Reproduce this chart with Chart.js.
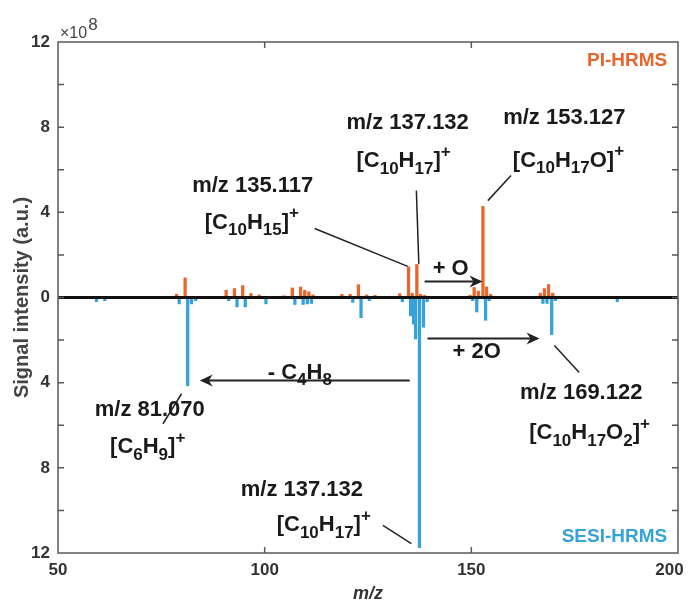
<!DOCTYPE html>
<html>
<head>
<meta charset="utf-8">
<script src="https://cdn.jsdelivr.net/npm/chart.js@4.4.1/dist/chart.umd.min.js"></script>
<style>
  html, body { margin: 0; padding: 0; background: #fff; }
  #wrap { width: 688px; height: 608px; }
</style>
</head>
<body>
<div id="wrap"><canvas id="grafico" width="688" height="608"></canvas></div>
<script>
// PI-HRMS (arriba, naranja)
const piMz = [64, 69, 71, 79, 81.07, 85, 91, 93, 95, 97, 99, 105, 107, 109, 110, 111, 112, 119, 121, 123, 125, 127,
  133, 135.117, 136, 137.132, 138, 139, 150, 151, 152, 153.127, 154, 155, 167, 168, 169, 170, 182];
const piInt = [0.04, 0.05, 0.05, 0.15, 0.92, 0.05, 0.34, 0.42, 0.56, 0.19, 0.12, 0.08, 0.45, 0.49, 0.34, 0.27, 0.12, 0.15, 0.15, 0.6, 0.12, 0.1,
  0.18, 1.44, 0.2, 1.55, 0.15, 0.1, 0.1, 0.47, 0.3, 4.28, 0.5, 0.15, 0.2, 0.42, 0.61, 0.2, 0.05];

// SESI-HRMS (abajo, azul)
const sesiMz = [59, 61, 79, 81.07, 82, 83, 91, 93, 95, 100, 107, 109, 110, 111, 121, 123, 125,
  133, 135, 135.7, 136.2, 137.132, 138.1, 139, 150, 151, 153.127, 154, 167, 168, 169.122, 170, 185];
const sesiInt = [0.2, 0.15, 0.3, 4.15, 0.3, 0.15, 0.15, 0.44, 0.44, 0.3, 0.33, 0.33, 0.3, 0.28, 0.23, 0.95, 0.15,
  0.2, 0.86, 1.25, 1.95, 11.75, 1.4, 0.2, 0.15, 0.68, 1.07, 0.15, 0.28, 0.28, 1.74, 0.15, 0.2];

const xTicks = [50, 100, 150, 200];
const yTicks = [12, 8, 4, 0, -4, -8, -12];

// etiquetas (posicion en unidades de datos: m/z, x10^8)
const etiquetas = [
  { t: "m/z 137.132", x: 134.6, y: 8.2 },
  { t: "[C_{10}H_{17}]^{+}", x: 133.6, y: 6.4 },
  { t: "m/z 153.127", x: 172.5, y: 8.45 },
  { t: "[C_{10}H_{17}O]^{+}", x: 173.5, y: 6.43 },
  { t: "m/z 135.117", x: 97.1, y: 5.26 },
  { t: "[C_{10}H_{15}]^{+}", x: 96.9, y: 3.52 },
  { t: "+ O", x: 145.0, y: 1.36 },
  { t: "+ 2O", x: 151.3, y: -2.58 },
  { t: "- C_{4}H_{8}", x: 108.5, y: -3.52 },
  { t: "m/z 81.070", x: 72.2, y: -5.3 },
  { t: "[C_{6}H_{9}]^{+}", x: 71.7, y: -7.04 },
  { t: "m/z 169.122", x: 176.6, y: -4.5 },
  { t: "[C_{10}H_{17}O_{2}]^{+}", x: 178.6, y: -6.38 },
  { t: "m/z 137.132", x: 109.0, y: -9.06 },
  { t: "[C_{10}H_{17}]^{+}", x: 114.3, y: -10.7 }
];
const lineas = [
  [112.1, 3.24, 134.6, 1.46],
  [136.7, 5.02, 137.3, 1.58],
  [159.6, 5.73, 154.0, 4.55],
  [79.9, -4.52, 75.4, -5.93],
  [170.1, -2.25, 176.1, -3.52],
  [128.6, -10.7, 135.5, -11.56]
];
const flechas = [
  [138.7, 152.7, 0.75],
  [139.4, 166.5, -1.92],
  [135.1, 84.3, -3.9]
];

const naranja = "#E8652B";
const azul = "#35A2DA";
const fuente = "'Liberation Sans', Arial, sans-serif";

function textoRico(ctx, str, x, y, size) {
  const partes = [];
  const re = /([_^])\{([^}]*)\}|([^_^]+)/g;
  let m;
  while ((m = re.exec(str))) {
    if (m[3]) partes.push({ s: m[3], k: "n" });
    else partes.push({ s: m[2], k: m[1] === "_" ? "sub" : "sup" });
  }
  const chico = Math.round(size * 0.75);
  let ancho = 0;
  partes.forEach(p => {
    ctx.font = "bold " + (p.k === "n" ? size : chico) + "px " + fuente;
    p.w = ctx.measureText(p.s).width;
    ancho += p.w;
  });
  let cx = x - ancho / 2;
  ctx.textBaseline = "middle";
  ctx.textAlign = "left";
  partes.forEach(p => {
    ctx.font = "bold " + (p.k === "n" ? size : chico) + "px " + fuente;
    const dy = p.k === "sub" ? size * 0.36 : p.k === "sup" ? -size * 0.42 : 0;
    ctx.fillText(p.s, cx, y + dy);
    cx += p.w;
  });
}

const extras = {
  id: "extras",
  afterDatasetsDraw(chart) {
    const { ctx, chartArea: a, scales: { x, y } } = chart;
    ctx.save();
    // linea cero
    ctx.strokeStyle = "#111";
    ctx.lineWidth = 3;
    ctx.beginPath();
    ctx.moveTo(a.left, y.getPixelForValue(0));
    ctx.lineTo(a.right, y.getPixelForValue(0));
    ctx.stroke();

    // marco
    ctx.strokeStyle = "#5a5a5a";
    ctx.lineWidth = 1.5;
    ctx.strokeRect(a.left, a.top, a.right - a.left, a.bottom - a.top);

    // marcas hacia adentro
    ctx.beginPath();
    for (let v = -10; v <= 10; v += 2) {
      const py = y.getPixelForValue(v);
      ctx.moveTo(a.left, py); ctx.lineTo(a.left + 6, py);
      ctx.moveTo(a.right, py); ctx.lineTo(a.right - 6, py);
    }
    xTicks.slice(1, -1).forEach(v => {
      const px = x.getPixelForValue(v);
      ctx.moveTo(px, a.bottom); ctx.lineTo(px, a.bottom - 6);
      ctx.moveTo(px, a.top); ctx.lineTo(px, a.top + 6);
    });
    ctx.stroke();

    // lineas guia
    ctx.strokeStyle = "#222";
    ctx.lineWidth = 1.5;
    ctx.beginPath();
    lineas.forEach(l => {
      ctx.moveTo(x.getPixelForValue(l[0]), y.getPixelForValue(l[1]));
      ctx.lineTo(x.getPixelForValue(l[2]), y.getPixelForValue(l[3]));
    });
    ctx.stroke();

    // flechas
    ctx.fillStyle = "#222";
    ctx.lineWidth = 2;
    flechas.forEach(f => {
      const x1 = x.getPixelForValue(f[0]), x2 = x.getPixelForValue(f[1]), py = y.getPixelForValue(f[2]);
      const dir = Math.sign(x2 - x1);
      ctx.beginPath();
      ctx.moveTo(x1, py); ctx.lineTo(x2 - dir * 6, py);
      ctx.stroke();
      ctx.beginPath();
      ctx.moveTo(x2, py);
      ctx.lineTo(x2 - dir * 13, py - 6);
      ctx.lineTo(x2 - dir * 9, py);
      ctx.lineTo(x2 - dir * 13, py + 6);
      ctx.closePath();
      ctx.fill();
    });

    // textos
    ctx.fillStyle = "#1a1a1a";
    etiquetas.forEach(e => textoRico(ctx, e.t, x.getPixelForValue(e.x), y.getPixelForValue(e.y), 22));

    ctx.font = "bold 19px " + fuente;
    ctx.textAlign = "right";
    ctx.textBaseline = "middle";
    ctx.fillStyle = naranja;
    ctx.fillText("PI-HRMS", x.getPixelForValue(197.4), y.getPixelForValue(11.13));
    ctx.fillStyle = azul;
    ctx.fillText("SESI-HRMS", x.getPixelForValue(197.4), y.getPixelForValue(-11.22));

    // x10^8
    ctx.fillStyle = "#444";
    ctx.textAlign = "left";
    ctx.textBaseline = "alphabetic";
    ctx.font = "16px " + fuente;
    ctx.fillText("\u00d710", a.left + 2, a.top - 4);
    const w = ctx.measureText("\u00d710").width;
    ctx.font = "17px " + fuente;
    ctx.fillText("8", a.left + 3 + w, a.top - 12);
    ctx.restore();
  }
};

new Chart(document.getElementById("grafico").getContext("2d"), {
  type: "bar",
  data: {
    datasets: [
      { label: "PI-HRMS", data: piMz.map((m, i) => ({ x: m, y: piInt[i] })), backgroundColor: naranja, barThickness: 2.6 },
      { label: "SESI-HRMS", data: sesiMz.map((m, i) => ({ x: m, y: -sesiInt[i] })), backgroundColor: azul, barThickness: 2.6 }
    ]
  },
  options: {
    responsive: false,
    animation: false,
    layout: { padding: { top: 42, right: 10, left: 0, bottom: 0 } },
    plugins: { legend: { display: false }, tooltip: { enabled: false } },
    scales: {
      x: {
        type: "linear", min: 50, max: 200, offset: false, stacked: false,
        afterBuildTicks: s => { s.ticks = xTicks.map(v => ({ value: v })); },
        afterFit: s => { s.height = 55; s.paddingLeft = 0; s.paddingRight = 0; },
        grid: { display: false, drawTicks: false },
        border: { display: false },
        ticks: { padding: 7, color: "#333", font: { family: fuente, size: 17, weight: "bold" }, maxRotation: 0,
          callback: v => v === 200 ? "200\u2003" : String(v) },
        title: { display: true, text: "m/z", color: "#333", padding: { top: 0, bottom: 3 },
          font: { family: fuente, size: 18, weight: "bold", style: "italic" } }
      },
      y: {
        min: -12, max: 12,
        afterBuildTicks: s => { s.ticks = yTicks.map(v => ({ value: v })); },
        afterFit: s => { s.width = 58; },
        grid: { display: false, drawTicks: false },
        border: { display: false },
        ticks: { padding: 8, color: "#333", font: { family: fuente, size: 17, weight: "bold" },
          callback: v => String(Math.abs(v)) },
        title: { display: true, text: "Signal intensity (a.u.)", color: "#444", padding: { top: 10, bottom: 0 },
          font: { family: fuente, size: 20, weight: "bold" } }
      }
    }
  },
  plugins: [extras]
});
</script>
</body>
</html>
